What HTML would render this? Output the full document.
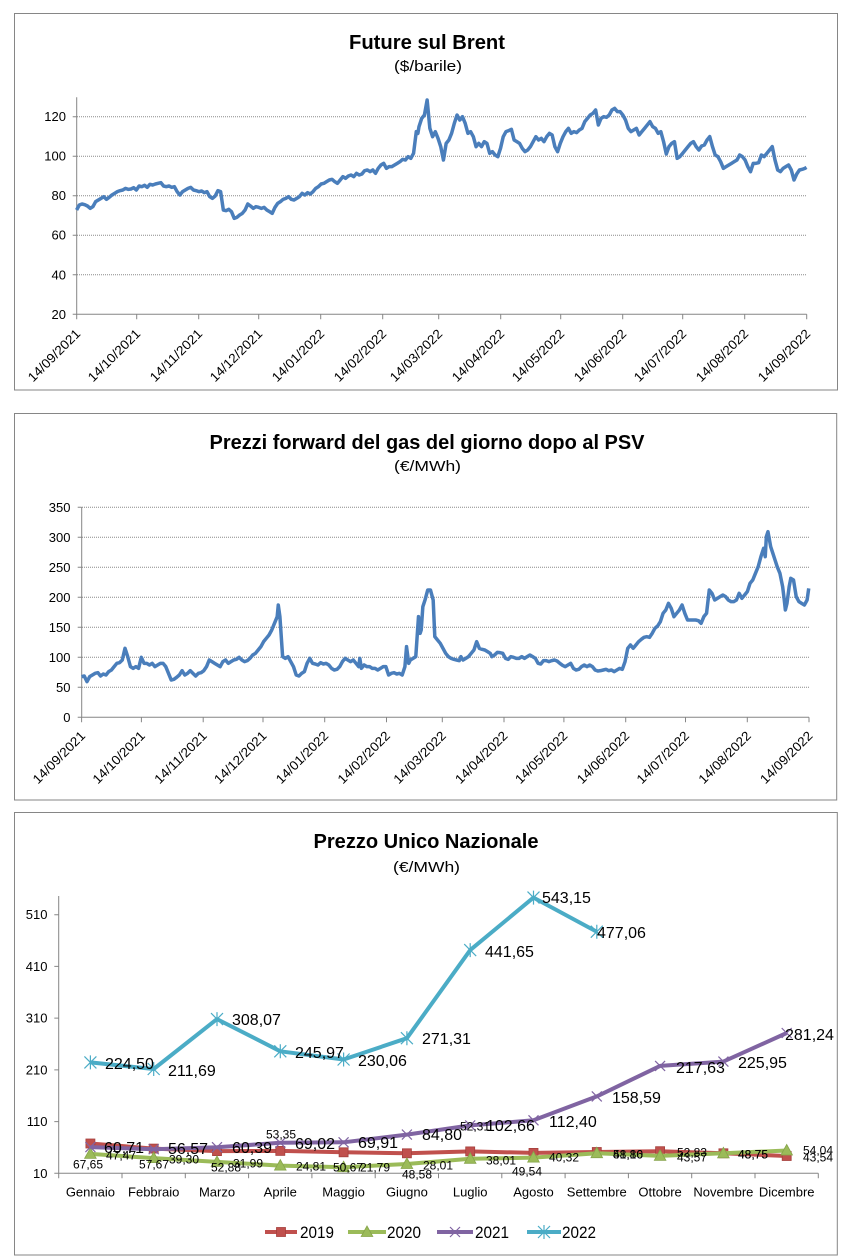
<!DOCTYPE html>
<html><head><meta charset="utf-8"><style>
html,body{margin:0;padding:0;background:#fff;}
svg{display:block;}
text{font-family:"Liberation Sans",sans-serif;fill:#000;}
.yl{font-size:13px;text-anchor:end;}
.dl{font-size:13px;text-anchor:end;}
.grid{stroke:#8a8a8a;stroke-width:1;stroke-dasharray:1 1;}
.ax{stroke:#868686;stroke-width:1;fill:none;}
.big{font-size:16px;}
.sm{font-size:12px;}
</style></head><body>
<svg width="853" height="1259" viewBox="0 0 853 1259" xmlns="http://www.w3.org/2000/svg">
<rect x="0" y="0" width="853" height="1259" fill="#fff"/>

<!-- ============ PANEL 1 ============ -->
<rect x="14.5" y="13.5" width="823" height="376.5" fill="#fff" stroke="#868686" stroke-width="1"/>
<text x="427" y="49" text-anchor="middle" font-size="20" font-weight="bold" textLength="156" lengthAdjust="spacingAndGlyphs">Future sul Brent</text>
<text x="428" y="71" text-anchor="middle" font-size="15" textLength="68" lengthAdjust="spacingAndGlyphs">($/barile)</text>
<g>
<line class="grid" x1="77" y1="274.8" x2="807" y2="274.8"/>
<line class="grid" x1="77" y1="235.2" x2="807" y2="235.2"/>
<line class="grid" x1="77" y1="195.7" x2="807" y2="195.7"/>
<line class="grid" x1="77" y1="156.2" x2="807" y2="156.2"/>
<line class="grid" x1="77" y1="116.7" x2="807" y2="116.7"/>
</g>
<path class="ax" d="M76.7 97.3V314.3H806.7"/>
<path class="ax" d="M72.7 314.3H76.7M72.7 274.8H76.7M72.7 235.2H76.7M72.7 195.7H76.7M72.7 156.2H76.7M72.7 116.7H76.7"/>
<path class="ax" d="M76.7 314.3v5M136.7 314.3v5M198.7 314.3v5M258.7 314.3v5M320.7 314.3v5M382.7 314.3v5M438.7 314.3v5M500.7 314.3v5M560.7 314.3v5M622.7 314.3v5M682.7 314.3v5M744.7 314.3v5M806.7 314.3v5"/>
<text class="yl" x="66" y="318.8">20</text>
<text class="yl" x="66" y="279.3">40</text>
<text class="yl" x="66" y="239.7">60</text>
<text class="yl" x="66" y="200.2">80</text>
<text class="yl" x="66" y="160.7">100</text>
<text class="yl" x="66" y="121.2">120</text>
<g class="dl">
<text transform="translate(81.2,334.5) rotate(-45)" textLength="68" lengthAdjust="spacingAndGlyphs">14/09/2021</text>
<text transform="translate(141.2,334.5) rotate(-45)" textLength="68" lengthAdjust="spacingAndGlyphs">14/10/2021</text>
<text transform="translate(203.2,334.5) rotate(-45)" textLength="68" lengthAdjust="spacingAndGlyphs">14/11/2021</text>
<text transform="translate(263.2,334.5) rotate(-45)" textLength="68" lengthAdjust="spacingAndGlyphs">14/12/2021</text>
<text transform="translate(325.2,334.5) rotate(-45)" textLength="68" lengthAdjust="spacingAndGlyphs">14/01/2022</text>
<text transform="translate(387.2,334.5) rotate(-45)" textLength="68" lengthAdjust="spacingAndGlyphs">14/02/2022</text>
<text transform="translate(443.2,334.5) rotate(-45)" textLength="68" lengthAdjust="spacingAndGlyphs">14/03/2022</text>
<text transform="translate(505.2,334.5) rotate(-45)" textLength="68" lengthAdjust="spacingAndGlyphs">14/04/2022</text>
<text transform="translate(565.2,334.5) rotate(-45)" textLength="68" lengthAdjust="spacingAndGlyphs">14/05/2022</text>
<text transform="translate(627.2,334.5) rotate(-45)" textLength="68" lengthAdjust="spacingAndGlyphs">14/06/2022</text>
<text transform="translate(687.2,334.5) rotate(-45)" textLength="68" lengthAdjust="spacingAndGlyphs">14/07/2022</text>
<text transform="translate(749.2,334.5) rotate(-45)" textLength="68" lengthAdjust="spacingAndGlyphs">14/08/2022</text>
<text transform="translate(811.2,334.5) rotate(-45)" textLength="68" lengthAdjust="spacingAndGlyphs">14/09/2022</text>
</g>
<g transform="matrix(0.5435,0,0,0.33333,0.5,0)">
<polyline vector-effect="non-scaling-stroke" fill="none" stroke="#4a7ebb" stroke-width="3.5" stroke-linejoin="round" points="140,630 145,615 150,612 155,614 160,618 165,625 170,620 175,605 180,600 185,595 190,590 195,598 200,592 205,585 210,580 215,575 220,572 225,570 230,565 235,568 240,567 245,563 250,570 255,558 260,560 265,556 270,562 275,553 280,555 285,552 290,550 295,548 300,558 305,560 310,558 315,562 320,560 325,575 330,585 335,575 340,570 345,565 350,562 355,570 360,572 365,575 370,573 375,578 380,575 385,590 390,595 395,588 400,572 405,575 410,630 415,632 420,628 425,635 430,655 435,652 440,645 445,640 450,630 455,612 460,618 465,625 470,620 475,622 480,625 485,622 490,630 495,635 500,640 505,622 510,610 515,605 520,598 525,595 530,590 535,598 540,600 545,595 550,590 555,580 560,585 565,578 570,582 575,575 580,565 585,560 590,552 595,550 600,545 605,540 610,538 615,545 620,550 625,540 630,530 635,535 640,528 645,525 650,530 655,520 660,525 665,522 670,512 675,510 680,515 685,510 690,520 695,505 700,495 705,490 710,505 715,500 720,500 725,495 730,490 735,485 740,478 745,480 750,470 755,475 760,460 765,395 768,400 770,380 775,355 780,345 785,300 790,385 795,410 800,395 805,415 810,440 815,480 820,430 825,420 830,400 835,370 840,345 845,360 850,350 855,370 860,400 865,395 870,410 875,440 880,430 885,440 890,425 895,430 900,460 905,455 910,465 915,470 920,445 925,410 930,395 935,392 940,388 945,420 950,425 955,430 960,445 965,455 970,450 975,440 980,425 985,410 990,420 995,415 1000,425 1005,410 1010,400 1015,405 1020,440 1025,455 1030,430 1035,410 1040,395 1045,385 1050,400 1055,395 1060,398 1065,390 1070,385 1075,365 1080,355 1085,345 1090,340 1095,330 1100,375 1105,355 1110,350 1115,352 1120,345 1125,330 1130,325 1135,335 1140,335 1145,345 1150,360 1155,385 1160,395 1165,390 1170,385 1175,405 1180,395 1185,385 1190,375 1195,365 1200,380 1205,385 1210,400 1215,395 1220,425 1225,462 1230,440 1235,430 1240,425 1245,475 1250,470 1255,460 1260,450 1265,440 1270,430 1275,425 1280,440 1285,450 1290,438 1295,435 1300,420 1305,410 1310,440 1315,465 1320,470 1325,485 1330,505 1335,500 1340,495 1345,490 1350,485 1355,480 1360,465 1365,470 1370,480 1375,500 1380,515 1385,490 1390,490 1395,488 1400,465 1405,470 1410,460 1415,450 1420,440 1425,480 1430,510 1435,515 1440,505 1445,500 1450,495 1455,510 1460,540 1465,522 1470,510 1475,508 1480,505 1483,502"/>
</g>

<!-- ============ PANEL 2 ============ -->
<rect x="14.5" y="413.5" width="822.2" height="386.5" fill="#fff" stroke="#868686" stroke-width="1"/>
<text x="427" y="449" text-anchor="middle" font-size="20" font-weight="bold" textLength="435" lengthAdjust="spacingAndGlyphs">Prezzi forward del gas del giorno dopo al PSV</text>
<text x="427.5" y="471" text-anchor="middle" font-size="15" textLength="67" lengthAdjust="spacingAndGlyphs">(€/MWh)</text>
<g>
<line class="grid" x1="82" y1="687.3" x2="809" y2="687.3"/>
<line class="grid" x1="82" y1="657.3" x2="809" y2="657.3"/>
<line class="grid" x1="82" y1="627.3" x2="809" y2="627.3"/>
<line class="grid" x1="82" y1="597.3" x2="809" y2="597.3"/>
<line class="grid" x1="82" y1="567.3" x2="809" y2="567.3"/>
<line class="grid" x1="82" y1="537.3" x2="809" y2="537.3"/>
<line class="grid" x1="82" y1="507.3" x2="809" y2="507.3"/>
</g>
<path class="ax" d="M81.7 507.3V717.3H809"/>
<path class="ax" d="M77.7 717.3H81.7M77.7 687.3H81.7M77.7 657.3H81.7M77.7 627.3H81.7M77.7 597.3H81.7M77.7 567.3H81.7M77.7 537.3H81.7M77.7 507.3H81.7"/>
<path class="ax" d="M81.6 717.3v5M141.4 717.3v5M203.2 717.3v5M263 717.3v5M324.7 717.3v5M386.5 717.3v5M442.3 717.3v5M504 717.3v5M563.9 717.3v5M625.7 717.3v5M685.5 717.3v5M747.3 717.3v5M809 717.3v5"/>
<text class="yl" x="70.5" y="721.8">0</text>
<text class="yl" x="70.5" y="691.8">50</text>
<text class="yl" x="70.5" y="661.8">100</text>
<text class="yl" x="70.5" y="631.8">150</text>
<text class="yl" x="70.5" y="601.8">200</text>
<text class="yl" x="70.5" y="571.8">250</text>
<text class="yl" x="70.5" y="541.8">300</text>
<text class="yl" x="70.5" y="511.8">350</text>
<g class="dl">
<text transform="translate(86.1,736.5) rotate(-45)" textLength="68" lengthAdjust="spacingAndGlyphs">14/09/2021</text>
<text transform="translate(145.9,736.5) rotate(-45)" textLength="68" lengthAdjust="spacingAndGlyphs">14/10/2021</text>
<text transform="translate(207.7,736.5) rotate(-45)" textLength="68" lengthAdjust="spacingAndGlyphs">14/11/2021</text>
<text transform="translate(267.5,736.5) rotate(-45)" textLength="68" lengthAdjust="spacingAndGlyphs">14/12/2021</text>
<text transform="translate(329.2,736.5) rotate(-45)" textLength="68" lengthAdjust="spacingAndGlyphs">14/01/2022</text>
<text transform="translate(391,736.5) rotate(-45)" textLength="68" lengthAdjust="spacingAndGlyphs">14/02/2022</text>
<text transform="translate(446.8,736.5) rotate(-45)" textLength="68" lengthAdjust="spacingAndGlyphs">14/03/2022</text>
<text transform="translate(508.5,736.5) rotate(-45)" textLength="68" lengthAdjust="spacingAndGlyphs">14/04/2022</text>
<text transform="translate(568.4,736.5) rotate(-45)" textLength="68" lengthAdjust="spacingAndGlyphs">14/05/2022</text>
<text transform="translate(630.2,736.5) rotate(-45)" textLength="68" lengthAdjust="spacingAndGlyphs">14/06/2022</text>
<text transform="translate(690,736.5) rotate(-45)" textLength="68" lengthAdjust="spacingAndGlyphs">14/07/2022</text>
<text transform="translate(751.8,736.5) rotate(-45)" textLength="68" lengthAdjust="spacingAndGlyphs">14/08/2022</text>
<text transform="translate(813.5,736.5) rotate(-45)" textLength="68" lengthAdjust="spacingAndGlyphs">14/09/2022</text>
</g>
<g transform="matrix(0.5435,0,0,0.33333,0,400)">
<polyline vector-effect="non-scaling-stroke" fill="none" stroke="#4a7ebb" stroke-width="3.5" stroke-linejoin="round" points="150,830 155,828 160,845 165,830 170,825 175,820 180,818 185,828 190,822 195,825 200,815 205,810 210,800 215,790 220,788 225,780 230,745 235,770 240,800 245,805 250,800 255,805 260,772 265,790 270,790 275,795 280,790 285,800 290,795 295,790 300,790 305,800 310,820 315,840 320,838 325,832 330,825 335,812 340,825 345,820 350,812 355,820 360,828 365,820 370,818 375,812 380,800 385,780 390,785 395,790 400,795 405,800 410,785 415,780 420,790 425,785 430,780 435,778 440,772 445,780 450,785 455,782 460,775 465,765 470,760 475,750 480,740 485,725 490,715 495,705 500,690 505,670 510,650 512,615 515,650 520,770 525,775 530,770 535,785 540,800 545,825 550,828 555,820 560,815 565,790 570,775 575,790 580,792 585,795 590,788 595,792 600,790 605,795 610,805 615,810 620,808 625,800 630,785 635,775 640,780 645,785 650,780 655,790 660,800 662,775 665,805 670,795 675,800 680,800 685,805 690,805 695,810 700,805 705,800 710,800 715,825 720,820 725,818 730,822 735,820 740,825 745,800 748,740 752,790 755,780 760,775 765,770 770,650 773,700 775,690 778,620 782,600 787,570 792,570 797,600 800,710 805,720 810,730 815,745 820,760 825,770 830,775 835,778 840,780 845,782 848,770 852,780 857,775 862,770 867,760 872,750 877,725 882,745 887,748 892,750 897,755 902,760 905,770 910,765 915,757 920,758 925,760 930,775 935,778 940,770 945,772 950,775 955,775 960,770 965,775 970,770 975,765 980,770 985,775 990,790 995,792 1000,782 1005,782 1010,785 1015,782 1020,780 1025,783 1030,790 1035,796 1040,800 1045,795 1050,790 1055,805 1060,810 1065,808 1070,800 1075,795 1080,800 1085,795 1090,800 1095,810 1100,813 1105,812 1110,810 1115,808 1120,812 1125,810 1130,815 1135,810 1140,805 1145,808 1150,785 1155,745 1160,735 1165,745 1170,735 1175,725 1180,718 1185,712 1190,710 1195,712 1200,700 1205,685 1210,678 1215,665 1220,640 1225,630 1230,610 1235,625 1240,650 1245,640 1250,630 1255,615 1260,640 1265,660 1270,660 1275,660 1280,660 1285,662 1290,670 1295,650 1300,640 1305,570 1310,580 1315,600 1320,595 1325,590 1330,585 1335,590 1340,600 1345,605 1350,605 1355,600 1360,580 1365,595 1370,585 1375,575 1380,550 1385,540 1390,520 1395,500 1400,470 1405,445 1408,470 1410,410 1413,395 1418,440 1422,460 1426,480 1430,500 1435,520 1440,560 1443,600 1445,630 1448,610 1452,560 1455,535 1460,540 1465,590 1470,605 1475,610 1480,615 1485,600 1488,565"/>
</g>

<!-- ============ PANEL 3 ============ -->
<rect x="14.5" y="812.5" width="822.8" height="442.5" fill="#fff" stroke="#868686" stroke-width="1"/>
<text x="426" y="848" text-anchor="middle" font-size="20" font-weight="bold" textLength="225" lengthAdjust="spacingAndGlyphs">Prezzo Unico Nazionale</text>
<text x="426.5" y="872" text-anchor="middle" font-size="15" textLength="67" lengthAdjust="spacingAndGlyphs">(€/MWh)</text>
<path class="ax" d="M58.7 896V1173.3H818.3"/>
<path class="ax" d="M54.3 1173.3H58.7M54.3 1121.6H58.7M54.3 1069.9H58.7M54.3 1018.1H58.7M54.3 966.4H58.7M54.3 914.7H58.7"/>
<path class="ax" d="M58.7 1173.3v5M122 1173.3v5M185.3 1173.3v5M248.6 1173.3v5M311.9 1173.3v5M375.2 1173.3v5M438.5 1173.3v5M501.8 1173.3v5M565.1 1173.3v5M628.4 1173.3v5M691.7 1173.3v5M755 1173.3v5M818.3 1173.3v5"/>
<text class="yl" x="47.5" y="1177.8">10</text>
<text class="yl" x="47.5" y="1126.1">110</text>
<text class="yl" x="47.5" y="1074.4">210</text>
<text class="yl" x="47.5" y="1022.6">310</text>
<text class="yl" x="47.5" y="970.9">410</text>
<text class="yl" x="47.5" y="919.2">510</text>
<g font-size="13" text-anchor="middle">
<text x="90.4" y="1196.5">Gennaio</text>
<text x="153.7" y="1196.5">Febbraio</text>
<text x="217" y="1196.5">Marzo</text>
<text x="280.3" y="1196.5">Aprile</text>
<text x="343.6" y="1196.5">Maggio</text>
<text x="406.9" y="1196.5">Giugno</text>
<text x="470.2" y="1196.5">Luglio</text>
<text x="533.5" y="1196.5">Agosto</text>
<text x="596.8" y="1196.5">Settembre</text>
<text x="660.1" y="1196.5">Ottobre</text>
<text x="723.4" y="1196.5">Novembre</text>
<text x="786.7" y="1196.5">Dicembre</text>
</g>

<defs>
<g id="msq"><rect x="-4.5" y="-4.5" width="9" height="9" fill="#C0504D" stroke="#a5403d" stroke-width="0.8"/></g>
<g id="mtr"><path d="M0,-6 L5.8,4.5 L-5.8,4.5 Z" fill="#9BBB59" stroke="#86a44a" stroke-width="0.8"/></g>
<g id="mx"><path d="M-5,-5 L5,5 M-5,5 L5,-5" stroke="#8064A2" stroke-width="1.2" fill="none"/></g>
<g id="mst"><path d="M-6,-6 L6,6 M-6,6 L6,-6 M0,-7 L0,7" stroke="#4BACC6" stroke-width="1.2" fill="none"/></g>
</defs>

<!-- 2019 -->
<polyline fill="none" stroke="#C0504D" stroke-width="4" stroke-linejoin="round" points="90.4,1143.5 153.7,1148.6 217,1151.1 280.3,1150.9 343.6,1152.3 406.9,1153.3 470.2,1151.4 533.5,1152.9 596.8,1152 660.1,1151.2 723.4,1153.3 786.7,1156"/>
<use href="#msq" x="90.4" y="1143.5"/><use href="#msq" x="153.7" y="1148.6"/><use href="#msq" x="217" y="1151.1"/><use href="#msq" x="280.3" y="1150.9"/><use href="#msq" x="343.6" y="1152.3"/><use href="#msq" x="406.9" y="1153.3"/><use href="#msq" x="470.2" y="1151.4"/><use href="#msq" x="533.5" y="1152.9"/><use href="#msq" x="596.8" y="1152"/><use href="#msq" x="660.1" y="1151.2"/><use href="#msq" x="723.4" y="1153.3"/><use href="#msq" x="786.7" y="1156"/>
<!-- 2020 -->
<polyline fill="none" stroke="#9BBB59" stroke-width="4" stroke-linejoin="round" points="90.4,1153.9 153.7,1158.1 217,1161.9 280.3,1165.6 343.6,1167.2 406.9,1164 470.2,1158.8 533.5,1157.6 596.8,1153.2 660.1,1155.9 723.4,1153.3 786.7,1150.5"/>
<use href="#mtr" x="90.4" y="1153.9"/><use href="#mtr" x="153.7" y="1158.1"/><use href="#mtr" x="217" y="1161.9"/><use href="#mtr" x="280.3" y="1165.6"/><use href="#mtr" x="343.6" y="1167.2"/><use href="#mtr" x="406.9" y="1164"/><use href="#mtr" x="470.2" y="1158.8"/><use href="#mtr" x="533.5" y="1157.6"/><use href="#mtr" x="596.8" y="1153.2"/><use href="#mtr" x="660.1" y="1155.9"/><use href="#mtr" x="723.4" y="1153.3"/><use href="#mtr" x="786.7" y="1150.5"/>
<!-- 2021 -->
<polyline fill="none" stroke="#8064A2" stroke-width="4" stroke-linejoin="round" points="90.4,1147.1 153.7,1149.2 217,1147.2 280.3,1142.8 343.6,1142.3 406.9,1134.6 470.2,1125.4 533.5,1120.3 596.8,1096.4 660.1,1065.9 723.4,1061.6 786.7,1033"/>
<use href="#mx" x="90.4" y="1147.1"/><use href="#mx" x="153.7" y="1149.2"/><use href="#mx" x="217" y="1147.2"/><use href="#mx" x="280.3" y="1142.8"/><use href="#mx" x="343.6" y="1142.3"/><use href="#mx" x="406.9" y="1134.6"/><use href="#mx" x="470.2" y="1125.4"/><use href="#mx" x="533.5" y="1120.3"/><use href="#mx" x="596.8" y="1096.4"/><use href="#mx" x="660.1" y="1065.9"/><use href="#mx" x="723.4" y="1061.6"/><use href="#mx" x="786.7" y="1033"/>
<!-- 2022 -->
<polyline fill="none" stroke="#4BACC6" stroke-width="4" stroke-linejoin="round" points="90.4,1062.4 153.7,1069 217,1019.1 280.3,1051.3 343.6,1059.5 406.9,1038.2 470.2,950.1 533.5,897.6 596.8,931.7"/>
<use href="#mst" x="90.4" y="1062.4"/><use href="#mst" x="153.7" y="1069"/><use href="#mst" x="217" y="1019.1"/><use href="#mst" x="280.3" y="1051.3"/><use href="#mst" x="343.6" y="1059.5"/><use href="#mst" x="406.9" y="1038.2"/><use href="#mst" x="470.2" y="950.1"/><use href="#mst" x="533.5" y="897.6"/><use href="#mst" x="596.8" y="931.7"/>

<!-- small labels 2019 -->
<g class="sm">
<text x="73" y="1168.3">67,65</text>
<text x="139" y="1168.3">57,67</text>
<text x="211" y="1171.3">52,88</text>
<text x="266" y="1138.3">53,35</text>
<text x="333" y="1171.3">50,67</text>
<text x="402" y="1178.3">48,58</text>
<text x="460" y="1130.3">52,31</text>
<text x="512" y="1175.3">49,54</text>
<text x="613" y="1158.3">51,16</text>
<text x="677" y="1156.3">52,83</text>
<text x="738" y="1158.3">48,75</text>
<text x="803" y="1161.3">43,54</text>
</g>
<!-- small labels 2020 -->
<g class="sm">
<text x="106" y="1159.3">47,47</text>
<text x="169" y="1163.3">39,30</text>
<text x="233" y="1167.3">31,99</text>
<text x="296" y="1170.3">24,81</text>
<text x="360" y="1171.3">21,79</text>
<text x="423" y="1169.3">28,01</text>
<text x="486" y="1164.3">38,01</text>
<text x="549" y="1161.3">40,32</text>
<text x="613" y="1158.3">48,80</text>
<text x="677" y="1161.3">43,57</text>
<text x="738" y="1158.3">48,75</text>
<text x="803" y="1154.3">54,04</text>
</g>
<!-- big labels 2021 -->
<g class="big">
<text x="104" y="1152.8">60,71</text>
<text x="168" y="1153.8">56,57</text>
<text x="232" y="1152.8">60,39</text>
<text x="295" y="1148.8">69,02</text>
<text x="358" y="1147.8">69,91</text>
<text x="422" y="1139.8">84,80</text>
<text x="486" y="1130.8">102,66</text>
<text x="549" y="1126.8">112,40</text>
<text x="612" y="1102.8">158,59</text>
<text x="676" y="1072.8">217,63</text>
<text x="738" y="1067.8">225,95</text>
<text x="785" y="1039.8">281,24</text>
</g>
<!-- big labels 2022 -->
<g class="big">
<text x="105" y="1068.8">224,50</text>
<text x="168" y="1075.8">211,69</text>
<text x="232" y="1024.8">308,07</text>
<text x="295" y="1057.8">245,97</text>
<text x="358" y="1065.8">230,06</text>
<text x="422" y="1043.8">271,31</text>
<text x="485" y="956.8">441,65</text>
<text x="542" y="902.8">543,15</text>
<text x="597" y="937.8">477,06</text>
</g>

<!-- legend -->
<line x1="265" y1="1232" x2="297" y2="1232" stroke="#C0504D" stroke-width="4"/>
<use href="#msq" x="281" y="1232"/>
<text x="300" y="1238" font-size="17" textLength="34" lengthAdjust="spacingAndGlyphs">2019</text>
<line x1="348" y1="1232" x2="386" y2="1232" stroke="#9BBB59" stroke-width="4"/>
<use href="#mtr" x="367" y="1232"/>
<text x="387" y="1238" font-size="17" textLength="34" lengthAdjust="spacingAndGlyphs">2020</text>
<line x1="437" y1="1232" x2="473" y2="1232" stroke="#8064A2" stroke-width="4"/>
<use href="#mx" x="455" y="1232"/>
<text x="475" y="1238" font-size="17" textLength="34" lengthAdjust="spacingAndGlyphs">2021</text>
<line x1="527" y1="1232" x2="561" y2="1232" stroke="#4BACC6" stroke-width="4"/>
<use href="#mst" x="544" y="1232"/>
<text x="562" y="1238" font-size="17" textLength="34" lengthAdjust="spacingAndGlyphs">2022</text>
</svg>
</body></html>
